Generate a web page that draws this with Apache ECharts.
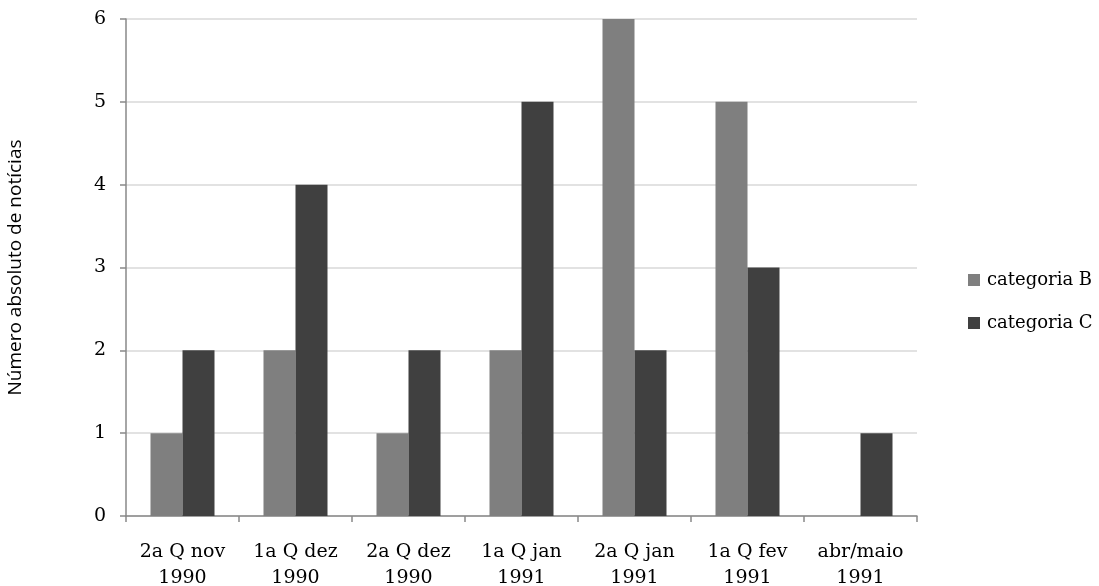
<!DOCTYPE html>
<html>
<head>
<meta charset="utf-8">
<script src="https://cdn.jsdelivr.net/npm/echarts@6/dist/echarts.min.js"></script>
<style>
  html, body { margin: 0; padding: 0; background: #fff; }
  #chart { width: 1099px; height: 586px; }
</style>
</head>
<body>
<div id="chart"></div>
<script>
// Period categories (fortnights / months)
const categories = [
  '2a Q nov\n1990', '1a Q dez\n1990', '2a Q dez\n1990', '1a Q jan\n1991',
  '2a Q jan\n1991', '1a Q fev\n1991', 'abr/maio\n1991'
];
// News counts per category
const categoriaB = [1, 2, 1, 2, 6, 5, 0];
const categoriaC = [2, 4, 2, 5, 2, 3, 1];
const seriesNames = ['categoria B', 'categoria C'];
const yTicks = [0, 1, 2, 3, 4, 5, 6];

const serif = '"DejaVu Serif", "Liberation Serif", serif';
const chart = echarts.init(document.getElementById('chart'));
chart.setOption({
  animation: false,
  backgroundColor: '#ffffff',
  grid: { left: 126, right: 182, top: 19, bottom: 70, containLabel: false, outerBoundsMode: 'none' },
  legend: {
    orient: 'vertical',
    left: 963,
    top: 266,
    itemWidth: 12,
    itemHeight: 12,
    itemGap: 25,
    icon: 'rect',
    data: seriesNames,
    textStyle: { fontFamily: serif, fontSize: 18, color: '#000', padding: [0, 0, 0, 2] }
  },
  xAxis: {
    type: 'category',
    data: categories,
    axisLine: { lineStyle: { color: '#898989', width: 1.5 } },
    axisTick: { show: true, length: 6, lineStyle: { color: '#898989', width: 1.5 } },
    axisLabel: {
      margin: 23, color: '#000', fontFamily: serif, fontSize: 19, lineHeight: 26, interval: 0
    }
  },
  yAxis: {
    type: 'value',
    min: yTicks[0],
    max: yTicks[yTicks.length - 1],
    interval: 1,
    name: 'Número absoluto de notícias',
    nameLocation: 'middle',
    nameGap: 101,
    nameTextStyle: { fontFamily: '"Open Sans", "Noto Sans", sans-serif', fontSize: 19, color: '#000' },
    axisLine: { show: true, lineStyle: { color: '#898989', width: 1.5 } },
    axisTick: { show: true, length: 6, lineStyle: { color: '#898989', width: 1.5 } },
    axisLabel: { margin: 20, color: '#000', fontFamily: serif, fontSize: 19 },
    splitLine: { lineStyle: { color: '#d9d9d9', width: 1.5 } }
  },
  series: [
    {
      name: seriesNames[0], type: 'bar', data: categoriaB,
      barWidth: 32, barGap: '0%',
      itemStyle: { color: '#7f7f7f' }
    },
    {
      name: seriesNames[1], type: 'bar', data: categoriaC,
      barWidth: 32, barGap: '0%',
      itemStyle: { color: '#404040' }
    }
  ]
});
</script>
</body>
</html>
